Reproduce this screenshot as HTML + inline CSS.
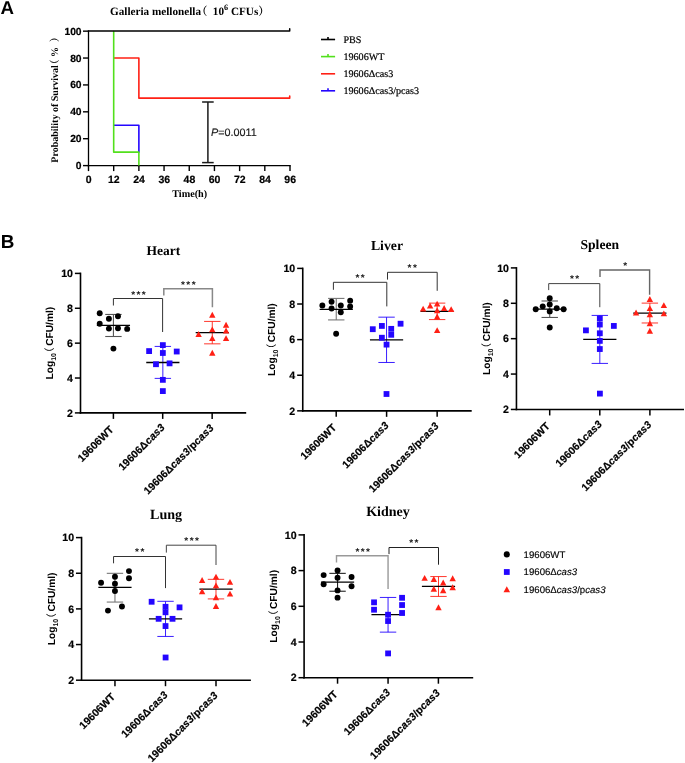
<!DOCTYPE html>
<html lang="en">
<head>
<meta charset="utf-8">
<title>Figure</title>
<style>
html,body{margin:0;padding:0;background:#fff;}
body{width:685px;height:763px;overflow:hidden;}
svg{display:block;}
text{white-space:pre;text-rendering:geometricPrecision;}
</style>
</head>
<body>
<svg width="685" height="763" viewBox="0 0 685 763">
<rect x="0" y="0" width="685" height="763" fill="#fff"/>
<text x="0.40" y="13.70" font-family='"Liberation Sans", sans-serif' font-size="18.7" font-weight="bold" text-anchor="start" fill="#000" >A</text>
<text x="110.00" y="14.80" font-family='"Liberation Serif", "Noto Serif CJK SC", serif' font-size="11.2" font-weight="bold" text-anchor="start" fill="#000" >Galleria mellonella<tspan dx="-4.8">（</tspan><tspan dx="2.6"> 10</tspan><tspan font-size="8.2" dy="-4.5">6</tspan><tspan dy="4.5"> CFUs</tspan><tspan dx="0">）</tspan></text>
<line x1="88.50" y1="30.45" x2="88.50" y2="166.30" stroke="#000" stroke-width="1.3" />
<line x1="87.80" y1="165.60" x2="290.70" y2="165.60" stroke="#000" stroke-width="1.3" />
<line x1="83.00" y1="165.60" x2="88.50" y2="165.60" stroke="#000" stroke-width="1.4" />
<text x="81.60" y="169.10" font-family='"Liberation Sans", sans-serif' font-size="10.3" font-weight="bold" text-anchor="end" fill="#000" stroke="#000" stroke-width="0.2">0</text>
<line x1="83.00" y1="138.71" x2="88.50" y2="138.71" stroke="#000" stroke-width="1.4" />
<text x="81.60" y="142.21" font-family='"Liberation Sans", sans-serif' font-size="10.3" font-weight="bold" text-anchor="end" fill="#000" stroke="#000" stroke-width="0.2">20</text>
<line x1="83.00" y1="111.82" x2="88.50" y2="111.82" stroke="#000" stroke-width="1.4" />
<text x="81.60" y="115.32" font-family='"Liberation Sans", sans-serif' font-size="10.3" font-weight="bold" text-anchor="end" fill="#000" stroke="#000" stroke-width="0.2">40</text>
<line x1="83.00" y1="84.93" x2="88.50" y2="84.93" stroke="#000" stroke-width="1.4" />
<text x="81.60" y="88.43" font-family='"Liberation Sans", sans-serif' font-size="10.3" font-weight="bold" text-anchor="end" fill="#000" stroke="#000" stroke-width="0.2">60</text>
<line x1="83.00" y1="58.04" x2="88.50" y2="58.04" stroke="#000" stroke-width="1.4" />
<text x="81.60" y="61.54" font-family='"Liberation Sans", sans-serif' font-size="10.3" font-weight="bold" text-anchor="end" fill="#000" stroke="#000" stroke-width="0.2">80</text>
<line x1="83.00" y1="31.15" x2="88.50" y2="31.15" stroke="#000" stroke-width="1.4" />
<text x="81.60" y="34.65" font-family='"Liberation Sans", sans-serif' font-size="10.3" font-weight="bold" text-anchor="end" fill="#000" stroke="#000" stroke-width="0.2">100</text>
<line x1="88.50" y1="165.60" x2="88.50" y2="171.10" stroke="#000" stroke-width="1.4" />
<text x="88.70" y="183.20" font-family='"Liberation Sans", sans-serif' font-size="10.5" font-weight="bold" text-anchor="middle" fill="#000" stroke="#000" stroke-width="0.2">0</text>
<line x1="113.69" y1="165.60" x2="113.69" y2="171.10" stroke="#000" stroke-width="1.4" />
<text x="113.89" y="183.20" font-family='"Liberation Sans", sans-serif' font-size="10.5" font-weight="bold" text-anchor="middle" fill="#000" stroke="#000" stroke-width="0.2">12</text>
<line x1="138.88" y1="165.60" x2="138.88" y2="171.10" stroke="#000" stroke-width="1.4" />
<text x="139.07" y="183.20" font-family='"Liberation Sans", sans-serif' font-size="10.5" font-weight="bold" text-anchor="middle" fill="#000" stroke="#000" stroke-width="0.2">24</text>
<line x1="164.06" y1="165.60" x2="164.06" y2="171.10" stroke="#000" stroke-width="1.4" />
<text x="164.26" y="183.20" font-family='"Liberation Sans", sans-serif' font-size="10.5" font-weight="bold" text-anchor="middle" fill="#000" stroke="#000" stroke-width="0.2">36</text>
<line x1="189.25" y1="165.60" x2="189.25" y2="171.10" stroke="#000" stroke-width="1.4" />
<text x="189.45" y="183.20" font-family='"Liberation Sans", sans-serif' font-size="10.5" font-weight="bold" text-anchor="middle" fill="#000" stroke="#000" stroke-width="0.2">48</text>
<line x1="214.44" y1="165.60" x2="214.44" y2="171.10" stroke="#000" stroke-width="1.4" />
<text x="214.64" y="183.20" font-family='"Liberation Sans", sans-serif' font-size="10.5" font-weight="bold" text-anchor="middle" fill="#000" stroke="#000" stroke-width="0.2">60</text>
<line x1="239.62" y1="165.60" x2="239.62" y2="171.10" stroke="#000" stroke-width="1.4" />
<text x="239.82" y="183.20" font-family='"Liberation Sans", sans-serif' font-size="10.5" font-weight="bold" text-anchor="middle" fill="#000" stroke="#000" stroke-width="0.2">72</text>
<line x1="264.81" y1="165.60" x2="264.81" y2="171.10" stroke="#000" stroke-width="1.4" />
<text x="265.01" y="183.20" font-family='"Liberation Sans", sans-serif' font-size="10.5" font-weight="bold" text-anchor="middle" fill="#000" stroke="#000" stroke-width="0.2">84</text>
<line x1="290.00" y1="165.60" x2="290.00" y2="171.10" stroke="#000" stroke-width="1.4" />
<text x="290.20" y="183.20" font-family='"Liberation Sans", sans-serif' font-size="10.5" font-weight="bold" text-anchor="middle" fill="#000" stroke="#000" stroke-width="0.2">96</text>
<text x="189.70" y="197.30" font-family='"Liberation Serif", "Noto Serif CJK SC", serif' font-size="10.2" font-weight="bold" text-anchor="middle" fill="#000" >Time(h)</text>
<text transform="translate(58,162.7) rotate(-90)" font-family='"Liberation Serif", "Noto Serif CJK SC", serif' font-size="10" font-weight="bold" text-anchor="start">Probability of Survival<tspan dx="-4.3">（</tspan> %<tspan dx="4.8">）</tspan></text>
<polyline points="113.69,58.04 138.88,58.04 138.88,98.17 289.70,98.17 289.70,96.08" fill="none" stroke="#ff2015" stroke-width="1.6" stroke-linejoin="round" stroke-linecap="round"/>
<polyline points="113.69,125.27 138.88,125.27 138.88,152.16" fill="none" stroke="#2406ff" stroke-width="1.6" stroke-linejoin="round" stroke-linecap="round"/>
<polyline points="113.69,31.55 113.69,152.16 138.88,152.16 138.88,165.00" fill="none" stroke="#52e01c" stroke-width="1.6" stroke-linejoin="round" stroke-linecap="round"/>
<polyline points="88.50,31.05 289.70,31.05 289.70,28.85" fill="none" stroke="#000" stroke-width="1.5" stroke-linejoin="round" stroke-linecap="round"/>
<line x1="207.90" y1="102.00" x2="207.90" y2="162.60" stroke="#1a1a1a" stroke-width="1.5" />
<line x1="202.10" y1="102.00" x2="213.70" y2="102.00" stroke="#1a1a1a" stroke-width="1.5" />
<line x1="202.10" y1="162.60" x2="213.70" y2="162.60" stroke="#1a1a1a" stroke-width="1.5" />
<text x="211.00" y="136.30" font-family='"Liberation Sans", sans-serif' font-size="10.8" font-weight="normal" text-anchor="start" fill="#1a1a1a" stroke="#1a1a1a" stroke-width="0.15"><tspan font-style="italic">P</tspan>=0.0011</text>
<line x1="321.00" y1="39.50" x2="335.10" y2="39.50" stroke="#000" stroke-width="1.6" />
<line x1="328.00" y1="36.90" x2="328.00" y2="39.50" stroke="#000" stroke-width="1.6" />
<text x="343.40" y="43.30" font-family='"Liberation Serif", "Noto Serif CJK SC", serif' font-size="10.15" font-weight="normal" text-anchor="start" fill="#000" stroke="#000" stroke-width="0.2">PBS</text>
<line x1="321.00" y1="56.60" x2="335.10" y2="56.60" stroke="#52e01c" stroke-width="1.6" />
<line x1="328.00" y1="54.00" x2="328.00" y2="56.60" stroke="#52e01c" stroke-width="1.6" />
<text x="343.40" y="60.20" font-family='"Liberation Serif", "Noto Serif CJK SC", serif' font-size="10.15" font-weight="normal" text-anchor="start" fill="#000" stroke="#000" stroke-width="0.2">19606WT</text>
<line x1="321.00" y1="73.80" x2="335.10" y2="73.80" stroke="#ff2015" stroke-width="1.6" />
<text x="343.40" y="77.10" font-family='"Liberation Serif", "Noto Serif CJK SC", serif' font-size="10.15" font-weight="normal" text-anchor="start" fill="#000" stroke="#000" stroke-width="0.2">19606Δcas3</text>
<line x1="321.00" y1="90.80" x2="335.10" y2="90.80" stroke="#2406ff" stroke-width="1.6" />
<line x1="328.00" y1="88.20" x2="328.00" y2="90.80" stroke="#2406ff" stroke-width="1.6" />
<text x="343.40" y="94.10" font-family='"Liberation Serif", "Noto Serif CJK SC", serif' font-size="10.15" font-weight="normal" text-anchor="start" fill="#000" stroke="#000" stroke-width="0.2">19606Δcas3/pcas3</text>
<text x="0.70" y="247.80" font-family='"Liberation Sans", sans-serif' font-size="18.9" font-weight="bold" text-anchor="start" fill="#000" >B</text>
<text x="163.40" y="254.90" font-family='"Liberation Serif", "Noto Serif CJK SC", serif' font-size="13.5" font-weight="bold" text-anchor="middle" fill="#000" >Heart</text>
<line x1="113.43" y1="314.45" x2="113.43" y2="336.50" stroke="#555" stroke-width="1.1" />
<line x1="105.23" y1="314.45" x2="121.63" y2="314.45" stroke="#555" stroke-width="1.1" />
<line x1="105.23" y1="336.50" x2="121.63" y2="336.50" stroke="#555" stroke-width="1.1" />
<line x1="96.83" y1="325.40" x2="130.03" y2="325.40" stroke="#000" stroke-width="1.3" />
<circle cx="99.71" cy="313.28" r="2.95" fill="#000"/>
<circle cx="117.96" cy="316.20" r="2.95" fill="#000"/>
<circle cx="108.91" cy="318.69" r="2.95" fill="#000"/>
<circle cx="99.71" cy="323.80" r="2.95" fill="#000"/>
<circle cx="108.91" cy="328.61" r="2.95" fill="#000"/>
<circle cx="117.96" cy="328.18" r="2.95" fill="#000"/>
<circle cx="127.15" cy="328.91" r="2.95" fill="#000"/>
<circle cx="113.43" cy="348.61" r="2.95" fill="#000"/>
<line x1="162.85" y1="346.42" x2="162.85" y2="378.39" stroke="#2406ff" stroke-width="0.9" />
<line x1="154.65" y1="346.42" x2="171.05" y2="346.42" stroke="#2406ff" stroke-width="0.9" />
<line x1="154.65" y1="378.39" x2="171.05" y2="378.39" stroke="#2406ff" stroke-width="0.9" />
<line x1="146.25" y1="362.48" x2="179.45" y2="362.48" stroke="#000" stroke-width="1.3" />
<rect x="159.95" y="342.21" width="5.8" height="5.8" fill="#2406ff"/>
<rect x="146.22" y="348.19" width="5.8" height="5.8" fill="#2406ff"/>
<rect x="159.95" y="350.09" width="5.8" height="5.8" fill="#2406ff"/>
<rect x="173.82" y="348.63" width="5.8" height="5.8" fill="#2406ff"/>
<rect x="153.09" y="361.33" width="5.8" height="5.8" fill="#2406ff"/>
<rect x="166.66" y="360.46" width="5.8" height="5.8" fill="#2406ff"/>
<rect x="159.95" y="376.95" width="5.8" height="5.8" fill="#2406ff"/>
<rect x="159.95" y="388.19" width="5.8" height="5.8" fill="#2406ff"/>
<line x1="212.28" y1="321.42" x2="212.28" y2="343.84" stroke="#ff2015" stroke-width="0.9" />
<line x1="204.08" y1="321.42" x2="220.48" y2="321.42" stroke="#ff2015" stroke-width="0.9" />
<line x1="204.08" y1="343.84" x2="220.48" y2="343.84" stroke="#ff2015" stroke-width="0.9" />
<line x1="195.68" y1="332.63" x2="228.88" y2="332.63" stroke="#000" stroke-width="1.3" />
<polygon points="212.28,311.81 209.08,317.71 215.48,317.71" fill="#ff2015"/>
<polygon points="226.06,321.74 222.86,327.64 229.26,327.64" fill="#ff2015"/>
<polygon points="212.28,326.41 209.08,332.31 215.48,332.31" fill="#ff2015"/>
<polygon points="226.06,327.58 222.86,333.48 229.26,333.48" fill="#ff2015"/>
<polygon points="198.61,331.08 195.41,336.98 201.81,336.98" fill="#ff2015"/>
<polygon points="212.28,335.17 209.08,341.07 215.48,341.07" fill="#ff2015"/>
<polygon points="226.06,335.17 222.86,341.07 229.26,341.07" fill="#ff2015"/>
<polygon points="212.28,349.77 209.08,355.67 215.48,355.67" fill="#ff2015"/>
<line x1="80.50" y1="272.60" x2="80.50" y2="413.70" stroke="#000" stroke-width="1.6" />
<line x1="79.70" y1="412.90" x2="246.20" y2="412.90" stroke="#000" stroke-width="1.6" />
<line x1="74.90" y1="412.90" x2="80.50" y2="412.90" stroke="#000" stroke-width="1.5" />
<text x="73.00" y="416.60" font-family='"Liberation Sans", sans-serif' font-size="10.6" font-weight="bold" text-anchor="end" fill="#000" stroke="#000" stroke-width="0.2">2</text>
<line x1="74.90" y1="378.02" x2="80.50" y2="378.02" stroke="#000" stroke-width="1.5" />
<text x="73.00" y="381.72" font-family='"Liberation Sans", sans-serif' font-size="10.6" font-weight="bold" text-anchor="end" fill="#000" stroke="#000" stroke-width="0.2">4</text>
<line x1="74.90" y1="343.15" x2="80.50" y2="343.15" stroke="#000" stroke-width="1.5" />
<text x="73.00" y="346.85" font-family='"Liberation Sans", sans-serif' font-size="10.6" font-weight="bold" text-anchor="end" fill="#000" stroke="#000" stroke-width="0.2">6</text>
<line x1="74.90" y1="308.27" x2="80.50" y2="308.27" stroke="#000" stroke-width="1.5" />
<text x="73.00" y="311.97" font-family='"Liberation Sans", sans-serif' font-size="10.6" font-weight="bold" text-anchor="end" fill="#000" stroke="#000" stroke-width="0.2">8</text>
<line x1="74.90" y1="273.40" x2="80.50" y2="273.40" stroke="#000" stroke-width="1.5" />
<text x="73.00" y="277.10" font-family='"Liberation Sans", sans-serif' font-size="10.6" font-weight="bold" text-anchor="end" fill="#000" stroke="#000" stroke-width="0.2">10</text>
<line x1="113.40" y1="412.90" x2="113.40" y2="418.90" stroke="#000" stroke-width="1.5" />
<text transform="translate(114.20,430.20) rotate(-45)" font-family='"Liberation Sans", sans-serif' font-size="10.5" font-weight="bold" text-anchor="end" stroke="#000" stroke-width="0.2">19606WT</text>
<line x1="162.70" y1="412.90" x2="162.70" y2="418.90" stroke="#000" stroke-width="1.5" />
<text transform="translate(165.60,428.10) rotate(-45)" font-family='"Liberation Sans", sans-serif' font-size="10.5" font-weight="bold" text-anchor="end" stroke="#000" stroke-width="0.2">19606Δ<tspan font-style="italic" letter-spacing="0.15">cas3</tspan></text>
<line x1="212.15" y1="412.90" x2="212.15" y2="418.90" stroke="#000" stroke-width="1.5" />
<text transform="translate(214.55,428.60) rotate(-45)" font-family='"Liberation Sans", sans-serif' font-size="10.5" font-weight="bold" text-anchor="end" stroke="#000" stroke-width="0.2">19606Δ<tspan font-style="italic" letter-spacing="0.15">cas3</tspan>/p<tspan font-style="italic" letter-spacing="0.15">cas3</tspan></text>
<text transform="translate(53.30,343.15) rotate(-90)" font-family='"Liberation Sans", sans-serif' font-size="10.2" font-weight="bold" text-anchor="middle">Log<tspan font-size="7" dy="2.2">10</tspan><tspan dy="-2.2" dx="-4.6" font-family='"Liberation Sans","Noto Sans CJK SC",sans-serif' font-weight="normal">（</tspan><tspan dx="-1.2"> CFU/ml)</tspan></text>
<polyline points="113.40,305.50 113.40,298.50 162.60,298.50 162.60,332.00" fill="none" stroke="#333" stroke-width="1.0"/>
<polyline points="163.80,295.50 163.80,288.70 212.40,288.70 212.40,307.20" fill="none" stroke="#888" stroke-width="1.5"/>
<text x="139.20" y="297.60" font-family='"Liberation Sans", sans-serif' font-size="10" font-weight="bold" text-anchor="middle" fill="#111" letter-spacing="1.4">***</text>
<text x="189.00" y="287.80" font-family='"Liberation Sans", sans-serif' font-size="10" font-weight="bold" text-anchor="middle" fill="#111" letter-spacing="1.4">***</text>
<text x="387.00" y="249.50" font-family='"Liberation Serif", "Noto Serif CJK SC", serif' font-size="13.8" font-weight="bold" text-anchor="middle" fill="#000" >Liver</text>
<line x1="336.25" y1="298.42" x2="336.25" y2="319.91" stroke="#777" stroke-width="1.1" />
<line x1="328.05" y1="298.42" x2="344.45" y2="298.42" stroke="#777" stroke-width="1.1" />
<line x1="328.05" y1="319.91" x2="344.45" y2="319.91" stroke="#777" stroke-width="1.1" />
<line x1="319.65" y1="309.40" x2="352.85" y2="309.40" stroke="#000" stroke-width="1.3" />
<circle cx="322.35" cy="305.55" r="2.95" fill="#000"/>
<circle cx="331.58" cy="301.69" r="2.95" fill="#000"/>
<circle cx="331.58" cy="308.47" r="2.95" fill="#000"/>
<circle cx="340.80" cy="305.55" r="2.95" fill="#000"/>
<circle cx="340.80" cy="312.32" r="2.95" fill="#000"/>
<circle cx="350.15" cy="300.64" r="2.95" fill="#000"/>
<circle cx="350.15" cy="306.48" r="2.95" fill="#000"/>
<circle cx="336.13" cy="333.81" r="2.95" fill="#000"/>
<line x1="386.55" y1="317.17" x2="386.55" y2="362.48" stroke="#2406ff" stroke-width="0.9" />
<line x1="378.35" y1="317.17" x2="394.75" y2="317.17" stroke="#2406ff" stroke-width="0.9" />
<line x1="378.35" y1="362.48" x2="394.75" y2="362.48" stroke="#2406ff" stroke-width="0.9" />
<line x1="369.95" y1="339.94" x2="403.15" y2="339.94" stroke="#000" stroke-width="1.3" />
<rect x="369.87" y="326.30" width="5.8" height="5.8" fill="#2406ff"/>
<rect x="378.98" y="323.03" width="5.8" height="5.8" fill="#2406ff"/>
<rect x="388.33" y="325.95" width="5.8" height="5.8" fill="#2406ff"/>
<rect x="388.33" y="331.90" width="5.8" height="5.8" fill="#2406ff"/>
<rect x="397.67" y="320.81" width="5.8" height="5.8" fill="#2406ff"/>
<rect x="378.98" y="334.82" width="5.8" height="5.8" fill="#2406ff"/>
<rect x="383.65" y="341.71" width="5.8" height="5.8" fill="#2406ff"/>
<rect x="383.60" y="391.10" width="5.8" height="5.8" fill="#2406ff"/>
<line x1="437.14" y1="303.12" x2="437.14" y2="319.59" stroke="#ff2015" stroke-width="0.9" />
<line x1="428.94" y1="303.12" x2="445.34" y2="303.12" stroke="#ff2015" stroke-width="0.9" />
<line x1="428.94" y1="319.59" x2="445.34" y2="319.59" stroke="#ff2015" stroke-width="0.9" />
<line x1="420.54" y1="311.30" x2="453.74" y2="311.30" stroke="#000" stroke-width="1.3" />
<polygon points="423.12,305.66 419.92,311.56 426.32,311.56" fill="#ff2015"/>
<polygon points="430.13,302.63 426.93,308.53 433.33,308.53" fill="#ff2015"/>
<polygon points="437.14,300.64 433.94,306.54 440.34,306.54" fill="#ff2015"/>
<polygon points="444.15,305.08 440.95,310.98 447.35,310.98" fill="#ff2015"/>
<polygon points="451.15,306.13 447.95,312.03 454.35,312.03" fill="#ff2015"/>
<polygon points="437.14,307.30 433.94,313.20 440.34,313.20" fill="#ff2015"/>
<polygon points="437.14,313.49 433.94,319.39 440.34,319.39" fill="#ff2015"/>
<polygon points="437.14,327.15 433.94,333.05 440.34,333.05" fill="#ff2015"/>
<line x1="302.75" y1="267.60" x2="302.75" y2="411.65" stroke="#000" stroke-width="1.6" />
<line x1="301.95" y1="410.85" x2="471.70" y2="410.85" stroke="#000" stroke-width="1.6" />
<line x1="297.15" y1="410.85" x2="302.75" y2="410.85" stroke="#000" stroke-width="1.5" />
<text x="295.25" y="414.55" font-family='"Liberation Sans", sans-serif' font-size="10.6" font-weight="bold" text-anchor="end" fill="#000" stroke="#000" stroke-width="0.2">2</text>
<line x1="297.15" y1="375.24" x2="302.75" y2="375.24" stroke="#000" stroke-width="1.5" />
<text x="295.25" y="378.94" font-family='"Liberation Sans", sans-serif' font-size="10.6" font-weight="bold" text-anchor="end" fill="#000" stroke="#000" stroke-width="0.2">4</text>
<line x1="297.15" y1="339.62" x2="302.75" y2="339.62" stroke="#000" stroke-width="1.5" />
<text x="295.25" y="343.32" font-family='"Liberation Sans", sans-serif' font-size="10.6" font-weight="bold" text-anchor="end" fill="#000" stroke="#000" stroke-width="0.2">6</text>
<line x1="297.15" y1="304.01" x2="302.75" y2="304.01" stroke="#000" stroke-width="1.5" />
<text x="295.25" y="307.71" font-family='"Liberation Sans", sans-serif' font-size="10.6" font-weight="bold" text-anchor="end" fill="#000" stroke="#000" stroke-width="0.2">8</text>
<line x1="297.15" y1="268.40" x2="302.75" y2="268.40" stroke="#000" stroke-width="1.5" />
<text x="295.25" y="272.10" font-family='"Liberation Sans", sans-serif' font-size="10.6" font-weight="bold" text-anchor="end" fill="#000" stroke="#000" stroke-width="0.2">10</text>
<line x1="336.20" y1="410.85" x2="336.20" y2="416.85" stroke="#000" stroke-width="1.5" />
<text transform="translate(337.00,428.15) rotate(-45)" font-family='"Liberation Sans", sans-serif' font-size="10.5" font-weight="bold" text-anchor="end" stroke="#000" stroke-width="0.2">19606WT</text>
<line x1="386.60" y1="410.85" x2="386.60" y2="416.85" stroke="#000" stroke-width="1.5" />
<text transform="translate(389.50,426.05) rotate(-45)" font-family='"Liberation Sans", sans-serif' font-size="10.5" font-weight="bold" text-anchor="end" stroke="#000" stroke-width="0.2">19606Δ<tspan font-style="italic" letter-spacing="0.15">cas3</tspan></text>
<line x1="437.15" y1="410.85" x2="437.15" y2="416.85" stroke="#000" stroke-width="1.5" />
<text transform="translate(439.55,426.55) rotate(-45)" font-family='"Liberation Sans", sans-serif' font-size="10.5" font-weight="bold" text-anchor="end" stroke="#000" stroke-width="0.2">19606Δ<tspan font-style="italic" letter-spacing="0.15">cas3</tspan>/p<tspan font-style="italic" letter-spacing="0.15">cas3</tspan></text>
<text transform="translate(275.30,339.62) rotate(-90)" font-family='"Liberation Sans", sans-serif' font-size="10.2" font-weight="bold" text-anchor="middle">Log<tspan font-size="7" dy="2.2">10</tspan><tspan dy="-2.2" dx="-4.6" font-family='"Liberation Sans","Noto Sans CJK SC",sans-serif' font-weight="normal">（</tspan><tspan dx="-1.2"> CFU/ml)</tspan></text>
<polyline points="333.40,289.80 333.40,282.30 386.80,282.30 386.80,306.40" fill="none" stroke="#333" stroke-width="1.0"/>
<polyline points="387.50,279.60 387.50,272.30 437.20,272.30 437.20,290.80" fill="none" stroke="#333" stroke-width="1.0"/>
<text x="360.80" y="280.90" font-family='"Liberation Sans", sans-serif' font-size="10" font-weight="bold" text-anchor="middle" fill="#111" letter-spacing="1.4">**</text>
<text x="412.90" y="271.20" font-family='"Liberation Sans", sans-serif' font-size="10" font-weight="bold" text-anchor="middle" fill="#111" letter-spacing="1.4">**</text>
<text x="599.75" y="249.20" font-family='"Liberation Serif", "Noto Serif CJK SC", serif' font-size="13.6" font-weight="bold" text-anchor="middle" fill="#000" >Spleen</text>
<line x1="549.73" y1="300.99" x2="549.73" y2="317.46" stroke="#555" stroke-width="1.1" />
<line x1="541.53" y1="300.99" x2="557.93" y2="300.99" stroke="#555" stroke-width="1.1" />
<line x1="541.53" y1="317.46" x2="557.93" y2="317.46" stroke="#555" stroke-width="1.1" />
<line x1="533.13" y1="309.05" x2="566.33" y2="309.05" stroke="#000" stroke-width="1.3" />
<circle cx="549.73" cy="298.19" r="2.95" fill="#000"/>
<circle cx="549.73" cy="304.38" r="2.95" fill="#000"/>
<circle cx="542.72" cy="306.36" r="2.95" fill="#000"/>
<circle cx="535.72" cy="309.28" r="2.95" fill="#000"/>
<circle cx="556.74" cy="308.23" r="2.95" fill="#000"/>
<circle cx="563.63" cy="309.28" r="2.95" fill="#000"/>
<circle cx="549.73" cy="311.39" r="2.95" fill="#000"/>
<circle cx="549.73" cy="327.50" r="2.95" fill="#000"/>
<line x1="599.82" y1="315.42" x2="599.82" y2="363.42" stroke="#2406ff" stroke-width="0.9" />
<line x1="591.62" y1="315.42" x2="608.02" y2="315.42" stroke="#2406ff" stroke-width="0.9" />
<line x1="591.62" y1="363.42" x2="608.02" y2="363.42" stroke="#2406ff" stroke-width="0.9" />
<line x1="583.22" y1="339.47" x2="616.42" y2="339.47" stroke="#000" stroke-width="1.3" />
<rect x="596.92" y="315.55" width="5.8" height="5.8" fill="#2406ff"/>
<rect x="596.92" y="321.63" width="5.8" height="5.8" fill="#2406ff"/>
<rect x="610.94" y="323.03" width="5.8" height="5.8" fill="#2406ff"/>
<rect x="583.03" y="327.46" width="5.8" height="5.8" fill="#2406ff"/>
<rect x="596.92" y="330.38" width="5.8" height="5.8" fill="#2406ff"/>
<rect x="596.92" y="337.98" width="5.8" height="5.8" fill="#2406ff"/>
<rect x="596.92" y="346.15" width="5.8" height="5.8" fill="#2406ff"/>
<rect x="597.00" y="390.70" width="5.8" height="5.8" fill="#2406ff"/>
<line x1="649.85" y1="303.12" x2="649.85" y2="322.97" stroke="#ff2015" stroke-width="0.9" />
<line x1="641.65" y1="303.12" x2="658.05" y2="303.12" stroke="#ff2015" stroke-width="0.9" />
<line x1="641.65" y1="322.97" x2="658.05" y2="322.97" stroke="#ff2015" stroke-width="0.9" />
<line x1="633.25" y1="313.04" x2="666.45" y2="313.04" stroke="#000" stroke-width="1.3" />
<polygon points="649.85,296.08 646.65,301.98 653.05,301.98" fill="#ff2015"/>
<polygon points="663.86,302.15 660.66,308.05 667.06,308.05" fill="#ff2015"/>
<polygon points="649.85,305.19 646.65,311.09 653.05,311.09" fill="#ff2015"/>
<polygon points="636.07,309.51 632.87,315.41 639.27,315.41" fill="#ff2015"/>
<polygon points="649.85,311.26 646.65,317.16 653.05,317.16" fill="#ff2015"/>
<polygon points="663.86,310.44 660.66,316.34 667.06,316.34" fill="#ff2015"/>
<polygon points="649.85,320.37 646.65,326.27 653.05,326.27" fill="#ff2015"/>
<polygon points="649.85,327.85 646.65,333.75 653.05,333.75" fill="#ff2015"/>
<line x1="516.45" y1="267.10" x2="516.45" y2="410.25" stroke="#000" stroke-width="1.6" />
<line x1="515.65" y1="409.45" x2="684.00" y2="409.45" stroke="#000" stroke-width="1.6" />
<line x1="510.85" y1="409.45" x2="516.45" y2="409.45" stroke="#000" stroke-width="1.5" />
<text x="508.95" y="413.15" font-family='"Liberation Sans", sans-serif' font-size="10.6" font-weight="bold" text-anchor="end" fill="#000" stroke="#000" stroke-width="0.2">2</text>
<line x1="510.85" y1="374.06" x2="516.45" y2="374.06" stroke="#000" stroke-width="1.5" />
<text x="508.95" y="377.76" font-family='"Liberation Sans", sans-serif' font-size="10.6" font-weight="bold" text-anchor="end" fill="#000" stroke="#000" stroke-width="0.2">4</text>
<line x1="510.85" y1="338.67" x2="516.45" y2="338.67" stroke="#000" stroke-width="1.5" />
<text x="508.95" y="342.37" font-family='"Liberation Sans", sans-serif' font-size="10.6" font-weight="bold" text-anchor="end" fill="#000" stroke="#000" stroke-width="0.2">6</text>
<line x1="510.85" y1="303.29" x2="516.45" y2="303.29" stroke="#000" stroke-width="1.5" />
<text x="508.95" y="306.99" font-family='"Liberation Sans", sans-serif' font-size="10.6" font-weight="bold" text-anchor="end" fill="#000" stroke="#000" stroke-width="0.2">8</text>
<line x1="510.85" y1="267.90" x2="516.45" y2="267.90" stroke="#000" stroke-width="1.5" />
<text x="508.95" y="271.60" font-family='"Liberation Sans", sans-serif' font-size="10.6" font-weight="bold" text-anchor="end" fill="#000" stroke="#000" stroke-width="0.2">10</text>
<line x1="549.70" y1="409.45" x2="549.70" y2="415.45" stroke="#000" stroke-width="1.5" />
<text transform="translate(550.50,426.75) rotate(-45)" font-family='"Liberation Sans", sans-serif' font-size="10.5" font-weight="bold" text-anchor="end" stroke="#000" stroke-width="0.2">19606WT</text>
<line x1="599.80" y1="409.45" x2="599.80" y2="415.45" stroke="#000" stroke-width="1.5" />
<text transform="translate(602.70,424.65) rotate(-45)" font-family='"Liberation Sans", sans-serif' font-size="10.5" font-weight="bold" text-anchor="end" stroke="#000" stroke-width="0.2">19606Δ<tspan font-style="italic" letter-spacing="0.15">cas3</tspan></text>
<line x1="649.90" y1="409.45" x2="649.90" y2="415.45" stroke="#000" stroke-width="1.5" />
<text transform="translate(652.30,425.15) rotate(-45)" font-family='"Liberation Sans", sans-serif' font-size="10.5" font-weight="bold" text-anchor="end" stroke="#000" stroke-width="0.2">19606Δ<tspan font-style="italic" letter-spacing="0.15">cas3</tspan>/p<tspan font-style="italic" letter-spacing="0.15">cas3</tspan></text>
<text transform="translate(490.30,338.67) rotate(-90)" font-family='"Liberation Sans", sans-serif' font-size="10.2" font-weight="bold" text-anchor="middle">Log<tspan font-size="7" dy="2.2">10</tspan><tspan dy="-2.2" dx="-4.6" font-family='"Liberation Sans","Noto Sans CJK SC",sans-serif' font-weight="normal">（</tspan><tspan dx="-1.2"> CFU/ml)</tspan></text>
<polyline points="548.70,290.10 548.70,283.60 599.80,283.60 599.80,307.20" fill="none" stroke="#444" stroke-width="1.0"/>
<polyline points="600.00,276.90 600.00,270.05 649.60,270.05 649.60,294.70" fill="none" stroke="#666" stroke-width="1.4"/>
<text x="575.20" y="281.90" font-family='"Liberation Sans", sans-serif' font-size="10" font-weight="bold" text-anchor="middle" fill="#111" letter-spacing="1.4">**</text>
<text x="625.80" y="268.50" font-family='"Liberation Sans", sans-serif' font-size="10" font-weight="bold" text-anchor="middle" fill="#111" letter-spacing="1.4">*</text>
<text x="166.10" y="518.90" font-family='"Liberation Serif", "Noto Serif CJK SC", serif' font-size="14.1" font-weight="bold" text-anchor="middle" fill="#000" >Lung</text>
<line x1="114.96" y1="573.33" x2="114.96" y2="602.06" stroke="#777" stroke-width="1.1" />
<line x1="106.76" y1="573.33" x2="123.16" y2="573.33" stroke="#777" stroke-width="1.1" />
<line x1="106.76" y1="602.06" x2="123.16" y2="602.06" stroke="#777" stroke-width="1.1" />
<line x1="98.36" y1="587.46" x2="131.56" y2="587.46" stroke="#000" stroke-width="1.3" />
<circle cx="128.98" cy="571.11" r="2.95" fill="#000"/>
<circle cx="114.96" cy="576.72" r="2.95" fill="#000"/>
<circle cx="128.98" cy="578.23" r="2.95" fill="#000"/>
<circle cx="101.07" cy="582.79" r="2.95" fill="#000"/>
<circle cx="114.96" cy="583.72" r="2.95" fill="#000"/>
<circle cx="114.96" cy="590.96" r="2.95" fill="#000"/>
<circle cx="121.97" cy="606.50" r="2.95" fill="#000"/>
<circle cx="107.96" cy="610.58" r="2.95" fill="#000"/>
<line x1="165.53" y1="601.30" x2="165.53" y2="636.45" stroke="#2406ff" stroke-width="0.9" />
<line x1="157.33" y1="601.30" x2="173.73" y2="601.30" stroke="#2406ff" stroke-width="0.9" />
<line x1="157.33" y1="636.45" x2="173.73" y2="636.45" stroke="#2406ff" stroke-width="0.9" />
<line x1="148.93" y1="618.82" x2="182.13" y2="618.82" stroke="#000" stroke-width="1.3" />
<rect x="148.73" y="598.87" width="5.8" height="5.8" fill="#2406ff"/>
<rect x="162.63" y="603.89" width="5.8" height="5.8" fill="#2406ff"/>
<rect x="176.64" y="604.47" width="5.8" height="5.8" fill="#2406ff"/>
<rect x="162.63" y="609.38" width="5.8" height="5.8" fill="#2406ff"/>
<rect x="155.74" y="615.92" width="5.8" height="5.8" fill="#2406ff"/>
<rect x="169.63" y="615.92" width="5.8" height="5.8" fill="#2406ff"/>
<rect x="162.63" y="623.16" width="5.8" height="5.8" fill="#2406ff"/>
<rect x="162.70" y="654.60" width="5.8" height="5.8" fill="#2406ff"/>
<line x1="215.99" y1="579.34" x2="215.99" y2="598.91" stroke="#ff2015" stroke-width="0.9" />
<line x1="207.79" y1="579.34" x2="224.19" y2="579.34" stroke="#ff2015" stroke-width="0.9" />
<line x1="207.79" y1="598.91" x2="224.19" y2="598.91" stroke="#ff2015" stroke-width="0.9" />
<line x1="199.39" y1="589.12" x2="232.59" y2="589.12" stroke="#000" stroke-width="1.3" />
<polygon points="215.99,573.71 212.79,579.61 219.19,579.61" fill="#ff2015"/>
<polygon points="202.12,577.06 198.92,582.96 205.32,582.96" fill="#ff2015"/>
<polygon points="230.00,578.96 226.80,584.86 233.20,584.86" fill="#ff2015"/>
<polygon points="215.99,582.47 212.79,588.37 219.19,588.37" fill="#ff2015"/>
<polygon points="202.12,588.31 198.92,594.21 205.32,594.21" fill="#ff2015"/>
<polygon points="230.00,590.64 226.80,596.54 233.20,596.54" fill="#ff2015"/>
<polygon points="215.99,594.29 212.79,600.19 219.19,600.19" fill="#ff2015"/>
<polygon points="215.99,603.05 212.79,608.95 219.19,608.95" fill="#ff2015"/>
<line x1="81.56" y1="536.80" x2="81.56" y2="681.00" stroke="#000" stroke-width="1.6" />
<line x1="80.76" y1="680.20" x2="250.90" y2="680.20" stroke="#000" stroke-width="1.6" />
<line x1="75.96" y1="680.20" x2="81.56" y2="680.20" stroke="#000" stroke-width="1.5" />
<text x="74.06" y="683.90" font-family='"Liberation Sans", sans-serif' font-size="10.6" font-weight="bold" text-anchor="end" fill="#000" stroke="#000" stroke-width="0.2">2</text>
<line x1="75.96" y1="644.55" x2="81.56" y2="644.55" stroke="#000" stroke-width="1.5" />
<text x="74.06" y="648.25" font-family='"Liberation Sans", sans-serif' font-size="10.6" font-weight="bold" text-anchor="end" fill="#000" stroke="#000" stroke-width="0.2">4</text>
<line x1="75.96" y1="608.90" x2="81.56" y2="608.90" stroke="#000" stroke-width="1.5" />
<text x="74.06" y="612.60" font-family='"Liberation Sans", sans-serif' font-size="10.6" font-weight="bold" text-anchor="end" fill="#000" stroke="#000" stroke-width="0.2">6</text>
<line x1="75.96" y1="573.25" x2="81.56" y2="573.25" stroke="#000" stroke-width="1.5" />
<text x="74.06" y="576.95" font-family='"Liberation Sans", sans-serif' font-size="10.6" font-weight="bold" text-anchor="end" fill="#000" stroke="#000" stroke-width="0.2">8</text>
<line x1="75.96" y1="537.60" x2="81.56" y2="537.60" stroke="#000" stroke-width="1.5" />
<text x="74.06" y="541.30" font-family='"Liberation Sans", sans-serif' font-size="10.6" font-weight="bold" text-anchor="end" fill="#000" stroke="#000" stroke-width="0.2">10</text>
<line x1="114.96" y1="680.20" x2="114.96" y2="686.20" stroke="#000" stroke-width="1.5" />
<text transform="translate(115.76,697.50) rotate(-45)" font-family='"Liberation Sans", sans-serif' font-size="10.5" font-weight="bold" text-anchor="end" stroke="#000" stroke-width="0.2">19606WT</text>
<line x1="165.50" y1="680.20" x2="165.50" y2="686.20" stroke="#000" stroke-width="1.5" />
<text transform="translate(168.40,695.40) rotate(-45)" font-family='"Liberation Sans", sans-serif' font-size="10.5" font-weight="bold" text-anchor="end" stroke="#000" stroke-width="0.2">19606Δ<tspan font-style="italic" letter-spacing="0.15">cas3</tspan></text>
<line x1="216.00" y1="680.20" x2="216.00" y2="686.20" stroke="#000" stroke-width="1.5" />
<text transform="translate(218.40,695.90) rotate(-45)" font-family='"Liberation Sans", sans-serif' font-size="10.5" font-weight="bold" text-anchor="end" stroke="#000" stroke-width="0.2">19606Δ<tspan font-style="italic" letter-spacing="0.15">cas3</tspan>/p<tspan font-style="italic" letter-spacing="0.15">cas3</tspan></text>
<text transform="translate(55.30,608.90) rotate(-90)" font-family='"Liberation Sans", sans-serif' font-size="10.2" font-weight="bold" text-anchor="middle">Log<tspan font-size="7" dy="2.2">10</tspan><tspan dy="-2.2" dx="-4.6" font-family='"Liberation Sans","Noto Sans CJK SC",sans-serif' font-weight="normal">（</tspan><tspan dx="-1.2"> CFU/ml)</tspan></text>
<polyline points="113.56,563.30 113.56,556.50 165.50,556.50 165.50,588.10" fill="none" stroke="#333" stroke-width="1.0"/>
<polyline points="166.35,552.60 166.35,545.20 216.00,545.20 216.00,565.00" fill="none" stroke="#444" stroke-width="1.0"/>
<text x="140.40" y="555.10" font-family='"Liberation Sans", sans-serif' font-size="10" font-weight="bold" text-anchor="middle" fill="#111" letter-spacing="1.4">**</text>
<text x="192.30" y="544.20" font-family='"Liberation Sans", sans-serif' font-size="10" font-weight="bold" text-anchor="middle" fill="#111" letter-spacing="1.4">***</text>
<text x="388.00" y="516.20" font-family='"Liberation Serif", "Noto Serif CJK SC", serif' font-size="14.0" font-weight="bold" text-anchor="middle" fill="#000" >Kidney</text>
<line x1="337.55" y1="573.36" x2="337.55" y2="591.23" stroke="#222" stroke-width="1.1" />
<line x1="329.35" y1="573.36" x2="345.75" y2="573.36" stroke="#222" stroke-width="1.1" />
<line x1="329.35" y1="591.23" x2="345.75" y2="591.23" stroke="#222" stroke-width="1.1" />
<line x1="320.95" y1="582.12" x2="354.15" y2="582.12" stroke="#000" stroke-width="1.3" />
<circle cx="337.55" cy="570.45" r="2.95" fill="#000"/>
<circle cx="323.65" cy="575.12" r="2.95" fill="#000"/>
<circle cx="337.55" cy="577.80" r="2.95" fill="#000"/>
<circle cx="351.56" cy="576.99" r="2.95" fill="#000"/>
<circle cx="323.65" cy="584.23" r="2.95" fill="#000"/>
<circle cx="351.56" cy="586.21" r="2.95" fill="#000"/>
<circle cx="337.55" cy="590.42" r="2.95" fill="#000"/>
<circle cx="337.55" cy="597.66" r="2.95" fill="#000"/>
<line x1="388.06" y1="597.45" x2="388.06" y2="632.13" stroke="#2406ff" stroke-width="0.9" />
<line x1="379.86" y1="597.45" x2="396.26" y2="597.45" stroke="#2406ff" stroke-width="0.9" />
<line x1="379.86" y1="632.13" x2="396.26" y2="632.13" stroke="#2406ff" stroke-width="0.9" />
<line x1="371.46" y1="614.61" x2="404.66" y2="614.61" stroke="#000" stroke-width="1.3" />
<rect x="399.17" y="594.90" width="5.8" height="5.8" fill="#2406ff"/>
<rect x="371.14" y="599.45" width="5.8" height="5.8" fill="#2406ff"/>
<rect x="399.17" y="602.14" width="5.8" height="5.8" fill="#2406ff"/>
<rect x="371.14" y="606.81" width="5.8" height="5.8" fill="#2406ff"/>
<rect x="399.17" y="610.08" width="5.8" height="5.8" fill="#2406ff"/>
<rect x="385.16" y="611.83" width="5.8" height="5.8" fill="#2406ff"/>
<rect x="385.16" y="618.14" width="5.8" height="5.8" fill="#2406ff"/>
<rect x="385.20" y="650.50" width="5.8" height="5.8" fill="#2406ff"/>
<line x1="438.50" y1="576.57" x2="438.50" y2="596.42" stroke="#ff2015" stroke-width="0.9" />
<line x1="430.30" y1="576.57" x2="446.70" y2="576.57" stroke="#ff2015" stroke-width="0.9" />
<line x1="430.30" y1="596.42" x2="446.70" y2="596.42" stroke="#ff2015" stroke-width="0.9" />
<line x1="421.90" y1="586.35" x2="455.10" y2="586.35" stroke="#000" stroke-width="1.3" />
<polygon points="424.64,574.88 421.44,580.78 427.84,580.78" fill="#ff2015"/>
<polygon points="433.83,576.04 430.63,581.94 437.03,581.94" fill="#ff2015"/>
<polygon points="452.66,575.31 449.46,581.21 455.86,581.21" fill="#ff2015"/>
<polygon points="443.18,579.55 439.98,585.45 446.38,585.45" fill="#ff2015"/>
<polygon points="433.83,585.82 430.63,591.72 437.03,591.72" fill="#ff2015"/>
<polygon points="443.18,587.28 439.98,593.18 446.38,593.18" fill="#ff2015"/>
<polygon points="452.66,584.36 449.46,590.26 455.86,590.26" fill="#ff2015"/>
<polygon points="438.50,604.36 435.30,610.26 441.70,610.26" fill="#ff2015"/>
<line x1="304.10" y1="534.10" x2="304.10" y2="678.50" stroke="#000" stroke-width="1.6" />
<line x1="303.30" y1="677.70" x2="473.20" y2="677.70" stroke="#000" stroke-width="1.6" />
<line x1="298.50" y1="677.70" x2="304.10" y2="677.70" stroke="#000" stroke-width="1.5" />
<text x="296.60" y="681.40" font-family='"Liberation Sans", sans-serif' font-size="10.6" font-weight="bold" text-anchor="end" fill="#000" stroke="#000" stroke-width="0.2">2</text>
<line x1="298.50" y1="642.00" x2="304.10" y2="642.00" stroke="#000" stroke-width="1.5" />
<text x="296.60" y="645.70" font-family='"Liberation Sans", sans-serif' font-size="10.6" font-weight="bold" text-anchor="end" fill="#000" stroke="#000" stroke-width="0.2">4</text>
<line x1="298.50" y1="606.30" x2="304.10" y2="606.30" stroke="#000" stroke-width="1.5" />
<text x="296.60" y="610.00" font-family='"Liberation Sans", sans-serif' font-size="10.6" font-weight="bold" text-anchor="end" fill="#000" stroke="#000" stroke-width="0.2">6</text>
<line x1="298.50" y1="570.60" x2="304.10" y2="570.60" stroke="#000" stroke-width="1.5" />
<text x="296.60" y="574.30" font-family='"Liberation Sans", sans-serif' font-size="10.6" font-weight="bold" text-anchor="end" fill="#000" stroke="#000" stroke-width="0.2">8</text>
<line x1="298.50" y1="534.90" x2="304.10" y2="534.90" stroke="#000" stroke-width="1.5" />
<text x="296.60" y="538.60" font-family='"Liberation Sans", sans-serif' font-size="10.6" font-weight="bold" text-anchor="end" fill="#000" stroke="#000" stroke-width="0.2">10</text>
<line x1="337.55" y1="677.70" x2="337.55" y2="683.70" stroke="#000" stroke-width="1.5" />
<text transform="translate(338.35,695.00) rotate(-45)" font-family='"Liberation Sans", sans-serif' font-size="10.5" font-weight="bold" text-anchor="end" stroke="#000" stroke-width="0.2">19606WT</text>
<line x1="388.06" y1="677.70" x2="388.06" y2="683.70" stroke="#000" stroke-width="1.5" />
<text transform="translate(390.96,692.90) rotate(-45)" font-family='"Liberation Sans", sans-serif' font-size="10.5" font-weight="bold" text-anchor="end" stroke="#000" stroke-width="0.2">19606Δ<tspan font-style="italic" letter-spacing="0.15">cas3</tspan></text>
<line x1="438.40" y1="677.70" x2="438.40" y2="683.70" stroke="#000" stroke-width="1.5" />
<text transform="translate(440.80,693.40) rotate(-45)" font-family='"Liberation Sans", sans-serif' font-size="10.5" font-weight="bold" text-anchor="end" stroke="#000" stroke-width="0.2">19606Δ<tspan font-style="italic" letter-spacing="0.15">cas3</tspan>/p<tspan font-style="italic" letter-spacing="0.15">cas3</tspan></text>
<text transform="translate(277.30,606.30) rotate(-90)" font-family='"Liberation Sans", sans-serif' font-size="10.2" font-weight="bold" text-anchor="middle">Log<tspan font-size="7" dy="2.2">10</tspan><tspan dy="-2.2" dx="-4.6" font-family='"Liberation Sans","Noto Sans CJK SC",sans-serif' font-weight="normal">（</tspan><tspan dx="-1.2"> CFU/ml)</tspan></text>
<polyline points="336.50,562.60 336.50,555.80 388.06,555.80 388.06,588.90" fill="none" stroke="#999" stroke-width="1.4"/>
<polyline points="389.00,554.10 389.00,547.50 438.50,547.50 438.50,564.70" fill="none" stroke="#222" stroke-width="1.0"/>
<text x="363.40" y="554.50" font-family='"Liberation Sans", sans-serif' font-size="10" font-weight="bold" text-anchor="middle" fill="#111" letter-spacing="1.4">***</text>
<text x="414.50" y="545.90" font-family='"Liberation Sans", sans-serif' font-size="10" font-weight="bold" text-anchor="middle" fill="#111" letter-spacing="1.4">**</text>
<circle cx="506.8" cy="554.4" r="3.05" fill="#000"/>
<rect x="503.9" y="569.1" width="5.8" height="5.8" fill="#2406ff"/>
<polygon points="506.8,586.3 503.5,592.3 510.1,592.3" fill="#ff2015"/>
<text x="523.60" y="557.50" font-family='"Liberation Sans", sans-serif' font-size="9.65" font-weight="normal" text-anchor="start" fill="#000" stroke="#000" stroke-width="0.15">19606WT</text>
<text x="523.60" y="575.00" font-family='"Liberation Sans", sans-serif' font-size="9.65" font-weight="normal" text-anchor="start" fill="#000" stroke="#000" stroke-width="0.15">19606Δ<tspan font-style="italic">cas3</tspan></text>
<text x="523.60" y="592.70" font-family='"Liberation Sans", sans-serif' font-size="9.65" font-weight="normal" text-anchor="start" fill="#000" stroke="#000" stroke-width="0.15">19606Δ<tspan font-style="italic">cas3</tspan>/p<tspan font-style="italic">cas3</tspan></text>
</svg>
</body>
</html>
